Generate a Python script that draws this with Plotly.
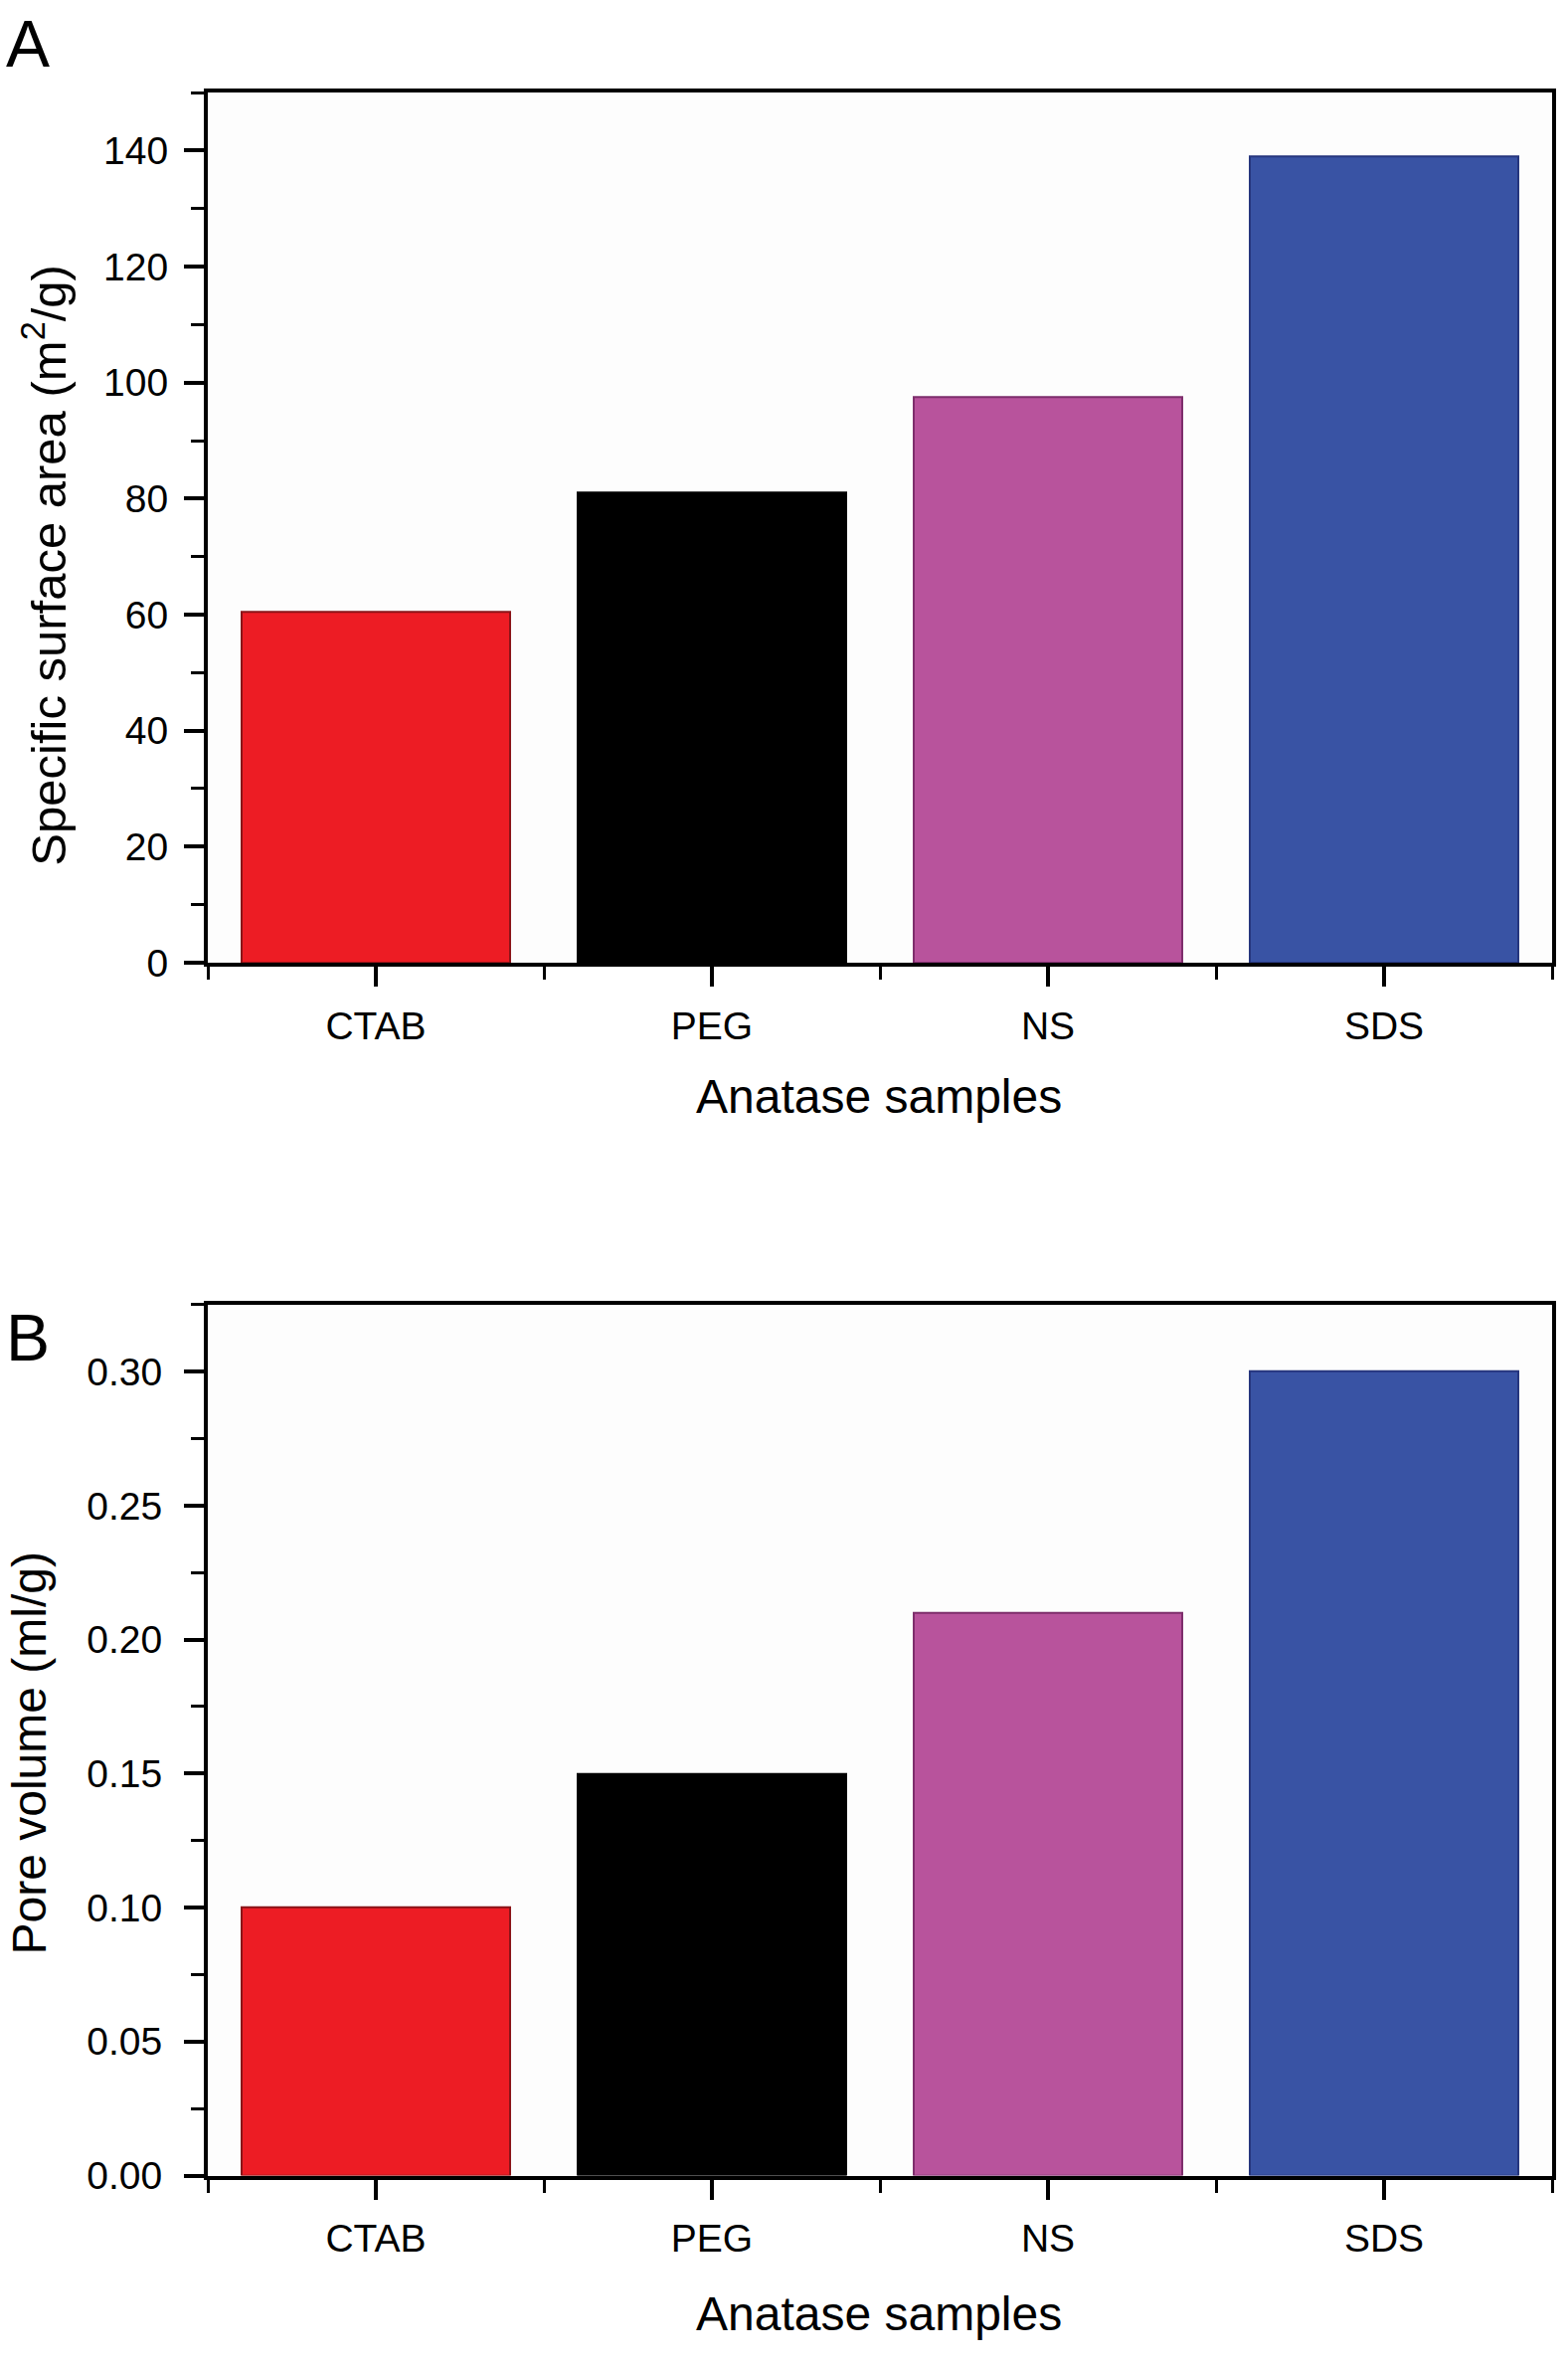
import plotly.graph_objects as go

SAMPLES = ["CTAB", "PEG", "NS", "SDS"]
SURFACE_AREA = [60.5, 81, 97.5, 139]          # m2/g
PORE_VOLUME = [0.10, 0.15, 0.21, 0.30]        # ml/g
BAR_COLORS = ["#ED1C24", "#000000", "#B8539C", "#3953A4"]
EDGE_COLORS = ["#8A1418", "#000000", "#7E2E6C", "#26367E"]

W, H = 1577, 2377
FONT = "Liberation Sans, Arial, Helvetica, sans-serif"


def px_x(p):
    return p / W


def px_y(p):
    return 1 - p / H


xpos = list(range(len(SAMPLES)))

fig = go.Figure()

fig.add_trace(go.Bar(
    x=xpos, y=SURFACE_AREA, width=0.8,
    marker=dict(color=BAR_COLORS, line=dict(color=EDGE_COLORS, width=2)),
    xaxis="x", yaxis="y", showlegend=False,
))
fig.add_trace(go.Bar(
    x=xpos, y=PORE_VOLUME, width=0.8,
    marker=dict(color=BAR_COLORS, line=dict(color=EDGE_COLORS, width=2)),
    xaxis="x2", yaxis="y2", showlegend=False,
))

# shared axis styling (Origin-like boxed frame)
common_x = dict(
    range=[-0.5, 3.5], tickvals=xpos, ticktext=SAMPLES,
    ticks="outside", ticklen=20, tickwidth=4, tickcolor="black",
    ticklabelstandoff=6,
    showline=True, linewidth=4, linecolor="black", mirror=True,
    showgrid=False, zeroline=False,
    tickfont=dict(family=FONT, size=39, color="black"),
    minor=dict(tickvals=[-0.5, 0.5, 1.5, 2.5, 3.5], ticks="outside",
               ticklen=13, tickwidth=3, tickcolor="black"),
    domain=[px_x(209), px_x(1561)],
)
common_y = dict(
    ticks="outside", ticklen=20, tickwidth=4, tickcolor="black",
    showline=True, linewidth=4, linecolor="black", mirror=True,
    showgrid=False, zeroline=False,
    tickfont=dict(family=FONT, size=39, color="black"),
)

fig.update_layout(
    width=W, height=H,
    margin=dict(l=0, r=0, t=0, b=0),
    paper_bgcolor="white", plot_bgcolor="#FDFDFD",
    bargap=0,
    xaxis=dict(common_x, anchor="y"),
    yaxis=dict(common_y, anchor="x", range=[0, 150], dtick=20, ticklabelstandoff=8,
               minor=dict(dtick=10, ticks="outside", ticklen=13, tickwidth=3, tickcolor="black"),
               domain=[px_y(977), px_y(94)]),
    xaxis2=dict(common_x, anchor="y2"),
    yaxis2=dict(common_y, anchor="x2", range=[0, 0.325], dtick=0.05, tickformat=".2f",
                ticklabelstandoff=14,
                minor=dict(dtick=0.025, ticks="outside", ticklen=13, tickwidth=3, tickcolor="black"),
                domain=[px_y(2208), px_y(1324)]),
)

ann = [
    dict(text="A", x=px_x(28), y=px_y(44), font_size=66),
    dict(text="B", x=px_x(28), y=px_y(1358), font_size=66),
    dict(text="Specific surface area (m<sup>2</sup>/g)", x=px_x(45), y=px_y(574),
         textangle=-90, font_size=49),
    dict(text="Pore volume (ml/g)", x=px_x(30), y=px_y(1780), textangle=-90, font_size=48),
    dict(text="Anatase samples", x=px_x(884), y=px_y(1113), font_size=48),
    dict(text="Anatase samples", x=px_x(884), y=px_y(2348), font_size=48),
]
for a in ann:
    fig.add_annotation(xref="paper", yref="paper", xanchor="center", yanchor="middle",
                       showarrow=False, text=a["text"], x=a["x"], y=a["y"],
                       textangle=a.get("textangle", 0),
                       font=dict(family=FONT, size=a["font_size"], color="black"))

fig.write_html("out.html", config={"displayModeBar": False},
               post_script="document.body.style.margin='0';")
